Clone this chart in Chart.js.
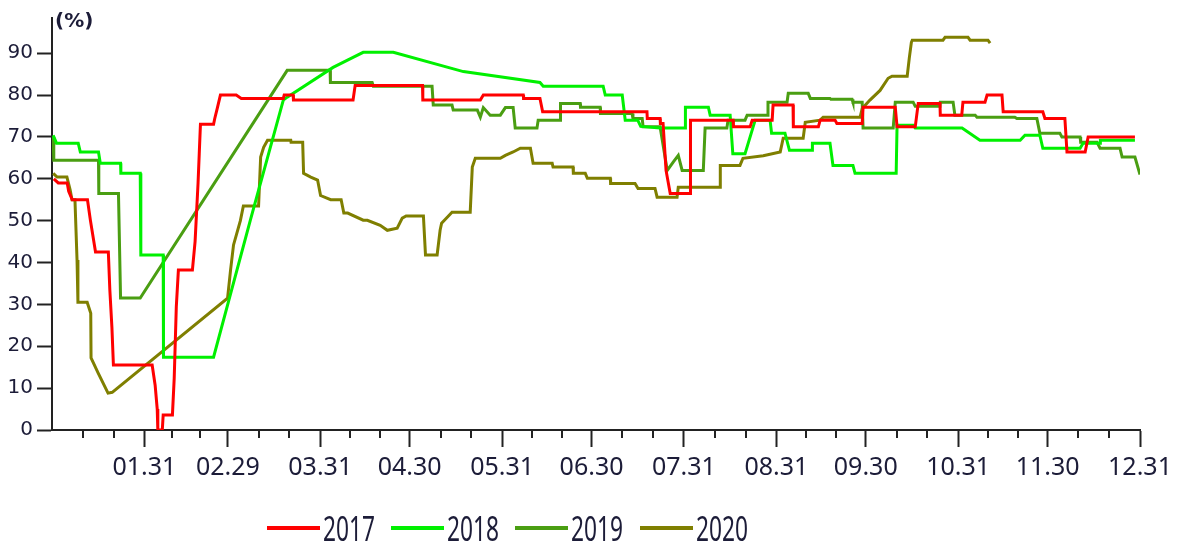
<!DOCTYPE html>
<html>
<head>
<meta charset="utf-8">
<script src="https://cdn.jsdelivr.net/npm/chart.js@4"></script>
<style>
  html, body { margin: 0; padding: 0; background: #fff; }
</style>
</head>
<body>
<canvas id="chart" width="1178" height="547"></canvas>
<script>
// series names & colors
const years = ['2017', '2018', '2019', '2020'];
const colors = ['#ff0000', '#00f000', '#4a9e12', '#7f7f00'];

// [day of year (0..365), value %]
const s2017 = [[0.6,60],[2.1,59],[5.1,59],[5.6,57],[6.8,55],[11.9,55],[12.9,50],[14.6,42.5],[18.9,42.5],[19.4,33.5],[20.1,24.5],[20.6,15.5],[33.6,15.5],[34.6,10.7],[35.3,5],[35.5,0],[37,0],[37.3,3.6],[40.4,3.6],[41,12.4],[41.7,29.4],[42.4,38.2],[47.1,38.2],[48,45],[49,59],[49.4,66],[49.8,73],[54.2,73],[54.6,74.4],[55.5,77],[56.5,80],[61.8,80],[63.5,79.2],[77.6,79.2],[77.9,80],[80.9,80],[81,78.8],[101,78.8],[101.7,82.3],[124.3,82.3],[124.4,78.8],[143.7,78.8],[144.7,80],[158.1,80],[158.2,79.2],[163.7,79.2],[164.6,76],[199.6,76],[199.7,74.4],[204,74.4],[204.1,73.2],[205,73.2],[206,62],[207.4,56.5],[214.1,56.5],[214.2,74],[228.5,74],[228.6,72.4],[234.2,72.4],[234.9,74],[241.6,74],[241.9,77.6],[248.6,77.6],[248.7,72.4],[257.1,72.4],[257.7,74],[262.7,74],[263.3,73.2],[271.8,73.2],[272.1,77.1],[282.9,77.1],[283.5,72.4],[289.6,72.4],[290.6,78],[297.9,78],[298,75.2],[305.2,75.2],[305.6,78.3],[313,78.3],[313.7,80],[318.7,80],[319.1,76],[332.4,76],[333.1,74.4],[339.8,74.4],[340.5,66.4],[346.6,66.4],[347.6,70],[363.3,70]];
const s2018 = [[0.4,70.4],[1.5,68.5],[8.8,68.5],[9.5,66.4],[15.6,66.4],[16.2,63.7],[23,63.7],[23.1,61.3],[29.6,61.3],[29.8,41.8],[37.3,41.8],[37.4,17.4],[54.2,17.4],[66.5,50],[77.6,78.8],[78.9,79.5],[94.3,86.6],[101,89],[104.4,90.2],[114.5,90.2],[138,85.6],[163.7,83],[164.8,82.1],[184.9,82.1],[185.6,80],[191.3,80],[192.3,74],[196.5,74],[197.5,72.5],[204,72.1],[212.4,72.1],[212.5,77.1],[220.2,77.1],[220.8,75.2],[227.5,75.2],[228.4,66],[232.5,66],[235.9,74],[240.9,74],[241.4,70.9],[245.9,70.9],[247.4,66.8],[255,66.8],[255.1,68.5],[261,68.5],[262,63.2],[268.7,63.2],[269.4,61.3],[283.2,61.3],[283.5,72.8],[288.9,72.8],[289.6,72.1],[305.3,72.1],[311.3,69.2],[324.8,69.2],[326.4,70.4],[331.4,70.4],[332.4,67.3],[344.9,67.3],[345.9,68.5],[351.6,68.5],[351.7,69.2],[363.3,69.2]];
const s2019 = [[0.4,70],[0.6,64.4],[15.6,64.4],[15.7,56.5],[22.3,56.5],[23,31.5],[29.6,31.5],[78.9,85.9],[93.3,85.9],[93.4,83],[107.4,83],[107.8,82.1],[127.5,82.1],[127.9,77.6],[134.2,77.6],[134.6,76.4],[142.7,76.4],[143.7,74.7],[144.7,77],[147,75.2],[150.4,75.2],[152.1,77],[154.7,77],[155.4,72.1],[162.7,72.1],[163.1,74],[170.5,74],[170.6,78],[177.2,78],[177.3,77.1],[183.9,77.1],[184,75.6],[194.6,75.6],[194.9,74.4],[198,74.4],[198.3,72.4],[204,72.4],[206.4,62],[208.4,64],[210.1,65.6],[211.4,62],[218.5,62],[219.1,72.1],[226.4,72.1],[226.8,74],[232.5,74],[233.2,75.2],[239.9,75.2],[240.2,78.3],[246.6,78.3],[247,80.4],[253.7,80.4],[254.4,79.2],[261,79.2],[261.3,79],[268.4,79],[268.7,78.3],[271.8,78.3],[272.1,72.1],[282.2,72.1],[282.9,78.3],[288.9,78.3],[289.6,77.3],[297.9,77.3],[298,78.3],[302.3,78.3],[302.9,75.2],[309.7,75.2],[310.3,74.7],[323,74.7],[323.7,74.4],[330.4,74.4],[331.4,70.9],[338.1,70.9],[338.8,70],[344.9,70],[345.1,68.7],[350.6,68.7],[351.6,67.3],[358.3,67.3],[359,65.2],[363.3,65.2],[365,61]];
const s2020 = [[0.4,61.3],[1.7,60.4],[5,60.4],[6.1,57.3],[6.7,55],[7.7,55],[8.4,40.6],[8.7,30.5],[11.8,30.5],[13,27.9],[13.1,17.2],[15.5,13.6],[18.8,8.8],[20.2,9],[58.9,31.5],[59.9,38.2],[60.9,44.2],[63.2,50],[64.2,53.5],[69.3,53.5],[70,65.2],[71,67.5],[72.3,69.2],[80.1,69.2],[80.2,68.7],[84.1,68.7],[84.4,61.3],[86.8,60.4],[89.1,59.7],[90.1,56],[93.5,55],[97,55],[97.9,51.8],[99.2,51.8],[104.4,50.1],[105.8,50.1],[110.1,48.9],[112.5,47.7],[115.8,48.2],[117.5,50.6],[118.8,51.1],[124.6,51.1],[125.3,41.8],[129.2,41.8],[130.2,47.7],[130.7,49.4],[132.6,50.8],[134.2,52],[140.3,52],[141,62.8],[142,64.9],[150.4,64.9],[152.1,65.6],[154.7,66.4],[157.1,67.3],[160.5,67.3],[161.4,63.7],[167.8,63.7],[168.1,62.8],[174.8,62.8],[174.9,61.3],[178.9,61.3],[179.6,60.1],[187.3,60.1],[187.4,58.9],[195.6,58.9],[196.6,57.7],[202.3,57.7],[203,55.6],[209.7,55.6],[210.1,58],[224.1,58],[224.2,63.2],[230.8,63.2],[231.8,64.9],[238.6,65.5],[244.3,66.4],[245.3,69.7],[252,69.7],[252.7,73.5],[257.7,74],[258.7,74.7],[271.1,74.7],[271.8,76.8],[274.4,78.8],[277.8,81.1],[280.5,84],[281.8,84.5],[286.9,84.5],[287.6,88.8],[288.3,92.6],[288.6,93.1],[298.9,93.1],[299.6,93.8],[307.3,93.8],[308,93.1],[314,93.1],[314.7,92.4]];
const seriesData = [s2017, s2018, s2019, s2020];

// axis ticks
const monthStarts = [0, 31, 59, 90, 120, 151, 181, 212, 243, 273, 304, 334];
const monthEnds = [31, 59, 90, 120, 151, 181, 212, 243, 273, 304, 334, 365];
const monthLabels = ['01.31', '02.29', '03.31', '04.30', '05.31', '06.30', '07.31', '08.31', '09.30', '10.31', '11.30', '12.31'];
const yTicks = [0, 10, 20, 30, 40, 50, 60, 70, 80, 90];

// minor ticks: month thirds
const minorTicks = [];
monthStarts.forEach((s, i) => {
  const len = monthEnds[i] - s;
  minorTicks.push(s + len / 3, s + 2 * len / 3);
});

const axisColor = '#222222';
const textColor = '#1c1c38';

const datasets = years.map((y, i) => ({
  label: y,
  data: seriesData[i].map(p => ({ x: p[0], y: p[1] })),
  borderColor: colors[i],
  backgroundColor: colors[i],
  borderWidth: 3,
  pointRadius: 0,
  tension: 0,
  fill: false
}));

// extra drawing: minor ticks, (%) unit, legend
const extras = {
  id: 'extras',
  afterDraw(chart) {
    const ctx = chart.ctx;
    const xs = chart.scales.x;
    ctx.save();
    // minor ticks
    ctx.fillStyle = axisColor;
    minorTicks.forEach(v => {
      const px = Math.round(xs.getPixelForValue(v));
      ctx.fillRect(px - 1, xs.top, 2, 8);
    });
    // unit label
    ctx.fillStyle = textColor;
    ctx.font = 'bold 20px "DejaVu Sans"';
    ctx.textBaseline = 'middle';
    ctx.textAlign = 'left';
    ctx.fillText('(%)', chart.chartArea.left + 3, 22);
    // legend
    const lineX = [267, 391, 515, 640];
    ctx.font = '35px "Noto Sans"';
    years.forEach((y, i) => {
      ctx.fillStyle = colors[i];
      ctx.fillRect(lineX[i], 526, 53, 4);
      const w = ctx.measureText(y).width;
      ctx.save();
      ctx.translate(lineX[i] + 56, 531);
      ctx.scale(52 / w, 1);
      ctx.fillStyle = textColor;
      ctx.fillText(y, 0, 0);
      ctx.restore();
    });
    ctx.restore();
  }
};

new Chart(document.getElementById('chart'), {
  type: 'line',
  data: { datasets: datasets },
  options: {
    responsive: false,
    animation: false,
    layout: { padding: { top: 18, right: 38, left: 0, bottom: 0 } },
    plugins: { legend: { display: false }, tooltip: { enabled: false } },
    scales: {
      x: {
        type: 'linear',
        min: 0,
        max: 365,
        afterBuildTicks: s => { s.ticks = monthEnds.map(v => ({ value: v })); },
        afterFit: s => { s.height = 117; },
        ticks: {
          autoSkip: false,
          maxRotation: 0,
          padding: 6,
          color: textColor,
          font: { family: '"Noto Sans"', size: 25 },
          callback: v => monthLabels[monthEnds.indexOf(v)] || ''
        },
        grid: { drawOnChartArea: false, tickLength: 17, tickWidth: 2, tickColor: axisColor },
        border: { color: axisColor, width: 2 }
      },
      y: {
        min: 0,
        max: 98.4,
        afterBuildTicks: s => { s.ticks = yTicks.map(v => ({ value: v })); },
        afterFit: s => { s.width = 52; },
        ticks: {
          padding: 4,
          color: textColor,
          font: { family: '"DejaVu Sans"', size: 20 }
        },
        grid: { drawOnChartArea: false, tickLength: 15, tickWidth: 2, tickColor: axisColor },
        border: { color: axisColor, width: 2 }
      }
    }
  },
  plugins: [extras]
});
</script>
</body>
</html>
